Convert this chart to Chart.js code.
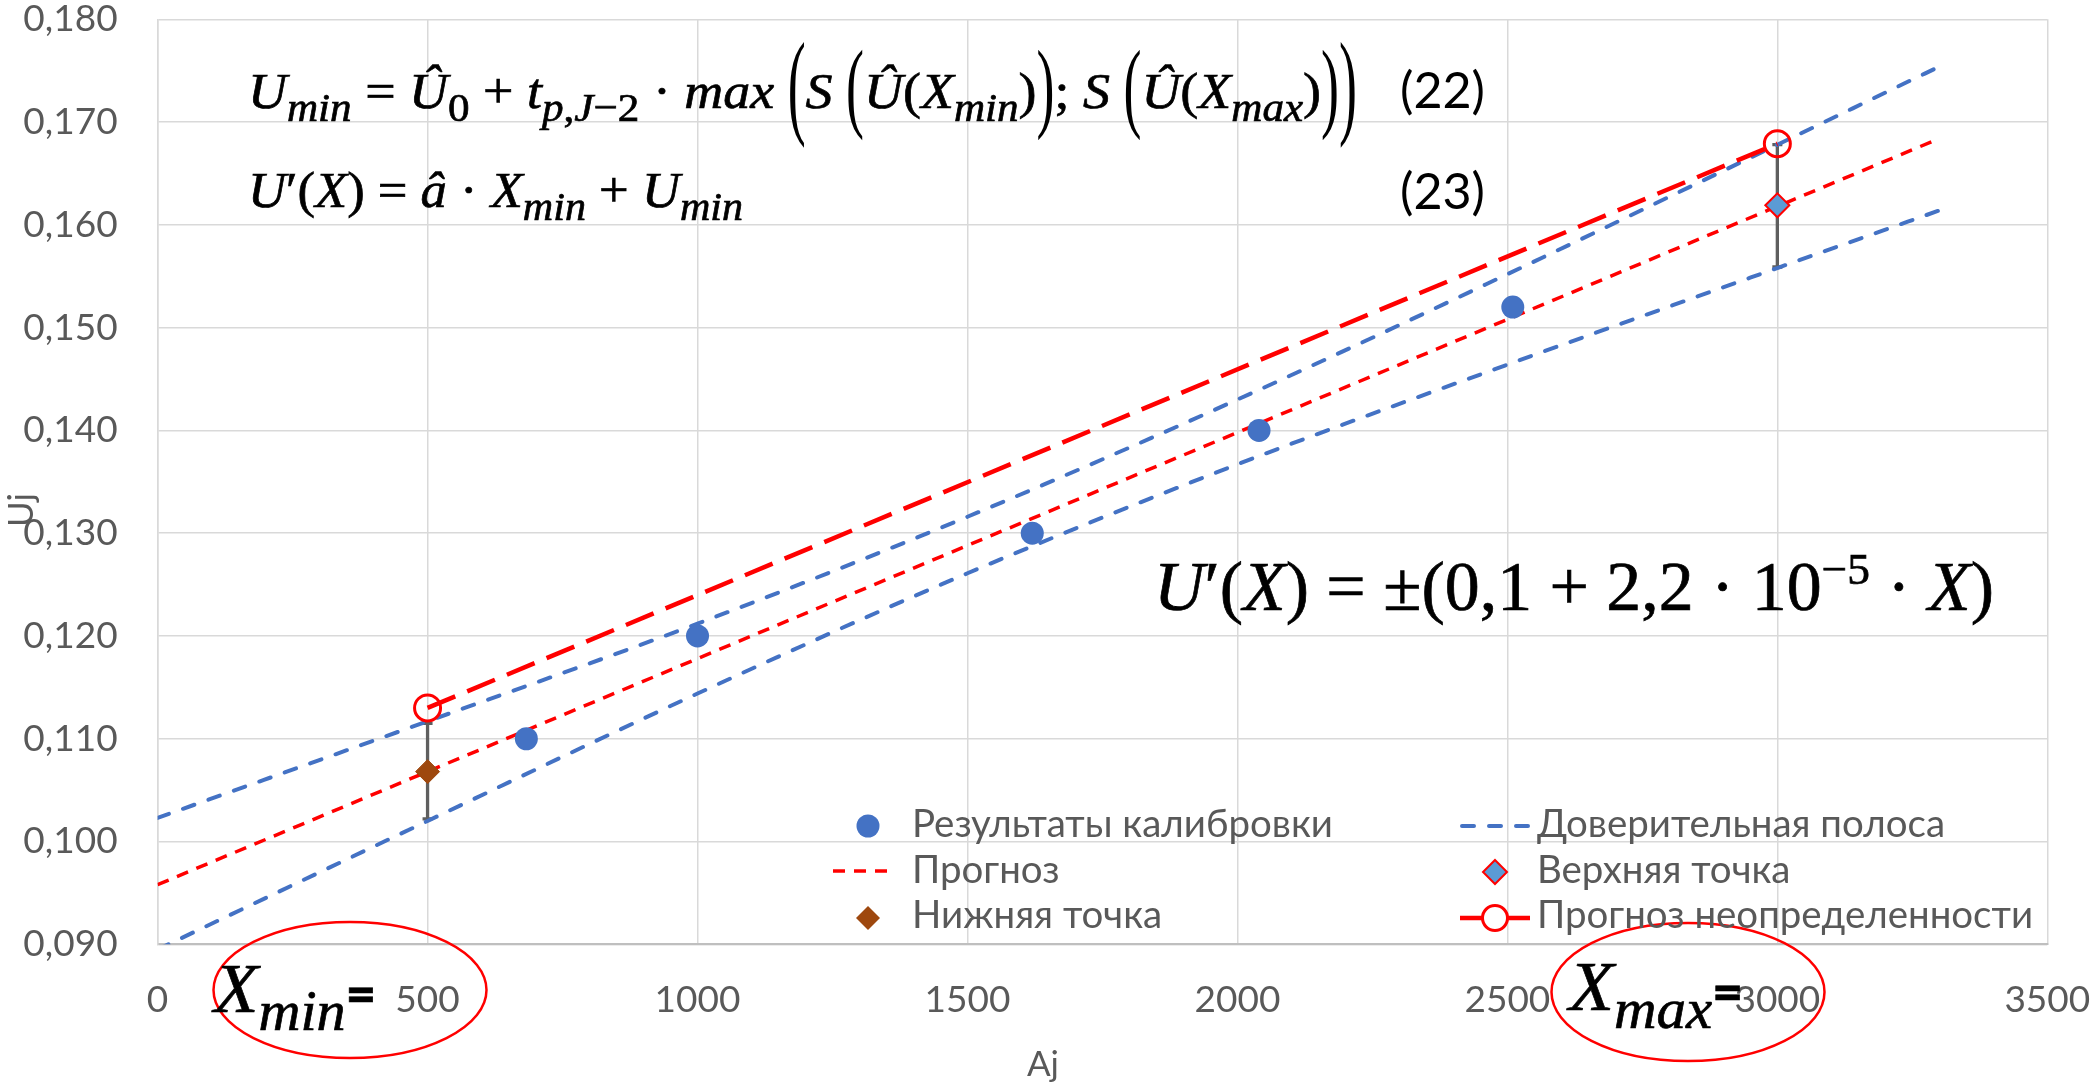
<!DOCTYPE html>
<html><head><meta charset="utf-8">
<script src="https://cdn.jsdelivr.net/npm/chart.js@4.4.1/dist/chart.umd.min.js"></script>
<style>
html,body{margin:0;padding:0;background:#fff;overflow:hidden;}
#wrap{position:relative;width:2094px;height:1087px;}
#c{position:absolute;left:0;top:0;}
.ov{position:absolute;white-space:nowrap;line-height:1;}
.math{font-family:"Liberation Serif","DejaVu Serif",serif;color:#000;-webkit-text-stroke:0.7px #000;}
.math i{font-style:italic;}
.sub{font-size:0.8em;vertical-align:-0.32em;line-height:0;}
.sup{font-size:0.65em;vertical-align:0.58em;line-height:0;}
.bp{display:inline-block;line-height:1;font-style:normal;transform:scaleY(2.3);transform-origin:50% 60%;-webkit-text-stroke:0;}
.mp{display:inline-block;line-height:1;font-style:normal;transform:scaleY(1.95);transform-origin:50% 60%;-webkit-text-stroke:0;}
.eq{font-family:Lato,"Open Sans",sans-serif;font-weight:900;font-style:normal;font-size:0.72em;}
.num{font-family:Lato,"Open Sans",sans-serif;color:#000;}
.leg{font-family:Lato,"Open Sans",sans-serif;color:#595959;}
</style></head>
<body><div id="wrap"><canvas id="c" width="2094" height="1087"></canvas></div>
<script>
// ---------- data ----------
const xTickLabels = ['0','500','1000','1500','2000','2500','3000','3500'];
const yTickLabels = ['0,090','0,100','0,110','0,120','0,130','0,140','0,150','0,160','0,170','0,180'];
const xTitle = 'Aj';
const yTitle = 'Uj';
const calibX = [683, 1000, 1620, 2040, 2510];
const calibY = [0.110, 0.120, 0.130, 0.140, 0.152];
const bandX = [0, 500, 1000, 1500, 2000, 2500, 3000, 3300];
const bandUpper = [0.1023, 0.1117, 0.1212, 0.1316, 0.1430, 0.1552, 0.1678, 0.1754];
const bandLower = [0.0895, 0.1020, 0.1144, 0.1261, 0.1367, 0.1464, 0.1558, 0.1614];
const forecastX = [0, 3300];
const forecastY = [0.0958, 0.1684];
const upperPtX = [3000];
const upperPtY = [0.1619];
const lowerPtX = [500];
const lowerPtY = [0.1068];
const uncX = [500, 3000];
const uncY = [0.1130, 0.1679];
const errX = [500, 3000];
const errLow = [0.1022, 0.1559];
const errHigh = [0.1115, 0.1678];
const labels = ['Результаты калибровки','Доверительная полоса','Прогноз','Верхняя точка','Нижняя точка','Прогноз неопределенности'];

const pts = (xs, ys) => xs.map((x, i) => ({x, y: ys[i]}));

const RED = '#FF0000', BLUE = '#4472C4', LBLUE = '#5B9BD5', BROWN = '#9E480E', GREY = '#595959';

const errorBars = {
  id: 'errorBars',
  beforeDatasetsDraw(chart) {
    const {ctx, scales: {x, y}} = chart;
    ctx.save();
    ctx.strokeStyle = '#5f5f5f';
    ctx.lineWidth = 3.3;
    errX.forEach((v, i) => {
      const px = x.getPixelForValue(v);
      const y1 = y.getPixelForValue(errLow[i]);
      const y2 = y.getPixelForValue(errHigh[i]);
      ctx.beginPath();
      ctx.moveTo(px, y1); ctx.lineTo(px, y2);
      ctx.moveTo(px - 5, y1); ctx.lineTo(px + 5, y1);
      ctx.moveTo(px - 5, y2); ctx.lineTo(px + 5, y2);
      ctx.stroke();
    });
    ctx.restore();
  }
};

const decor = {
  id: 'decor',
  afterDraw(chart) {
    const ctx = chart.ctx;
    ctx.save();
    // axis titles
    ctx.fillStyle = GREY;
    ctx.font = '35px Lato, "Open Sans", sans-serif';
    ctx.textAlign = 'center';
    ctx.textBaseline = 'alphabetic';
    ctx.fillText(xTitle, 1043, 1076);
    ctx.save();
    ctx.translate(33, 510);
    ctx.rotate(-Math.PI / 2);
    ctx.fillText(yTitle, 0, 0);
    ctx.restore();
    // ellipses
    ctx.strokeStyle = RED;
    ctx.lineWidth = 2.5;
    ctx.beginPath(); ctx.ellipse(350, 990, 136.5, 68, 0, 0, Math.PI * 2); ctx.stroke();
    ctx.beginPath(); ctx.ellipse(1688, 992, 136.5, 69, 0, 0, Math.PI * 2); ctx.stroke();
    // legend symbols
    const r1 = 826, r2 = 871, r3 = 918;
    ctx.fillStyle = BLUE;
    ctx.beginPath(); ctx.arc(868, r1, 11.5, 0, Math.PI * 2); ctx.fill();
    ctx.strokeStyle = RED; ctx.lineWidth = 3.5; ctx.setLineDash([12, 9]);
    ctx.beginPath(); ctx.moveTo(833, r2); ctx.lineTo(893, r2); ctx.stroke();
    ctx.setLineDash([]);
    const diamond = (cx, cy, r, fill, stroke, lw) => {
      ctx.beginPath(); ctx.moveTo(cx, cy - r); ctx.lineTo(cx + r, cy); ctx.lineTo(cx, cy + r); ctx.lineTo(cx - r, cy); ctx.closePath();
      ctx.fillStyle = fill; ctx.fill();
      if (stroke) { ctx.strokeStyle = stroke; ctx.lineWidth = lw; ctx.stroke(); }
    };
    diamond(868, r3, 12, BROWN, null, 0);
    ctx.strokeStyle = BLUE; ctx.lineWidth = 4; ctx.lineCap = 'round'; ctx.setLineDash([12, 15]);
    ctx.beginPath(); ctx.moveTo(1462, r1); ctx.lineTo(1530, r1); ctx.stroke();
    ctx.setLineDash([]); ctx.lineCap = 'butt';
    diamond(1495, 872, 12, LBLUE, RED, 2);
    ctx.strokeStyle = RED; ctx.lineWidth = 4.5;
    ctx.beginPath(); ctx.moveTo(1460, r3); ctx.lineTo(1530, r3); ctx.stroke();
    ctx.fillStyle = '#fff'; ctx.lineWidth = 3;
    ctx.beginPath(); ctx.arc(1495, r3, 12.5, 0, Math.PI * 2); ctx.fill(); ctx.stroke();
    ctx.restore();
  }
};

const tickFont = {family: 'Lato, "Open Sans", sans-serif', size: 37};

new Chart(document.getElementById('c'), {
  type: 'scatter',
  data: {
    datasets: [
      {label: labels[0], data: pts(calibX, calibY), backgroundColor: BLUE, borderColor: BLUE, pointRadius: 11.5, pointBorderWidth: 0, showLine: false, order: 0},
      {label: labels[1], data: pts(bandX, bandUpper), borderColor: BLUE, borderWidth: 4, borderDash: [12, 15], borderCapStyle: 'round', pointRadius: 0, showLine: true, cubicInterpolationMode: 'monotone', order: 6},
      {label: labels[1] + ' (нижняя)', data: pts(bandX, bandLower), borderColor: BLUE, borderWidth: 4, borderDash: [12, 15], borderCapStyle: 'round', pointRadius: 0, showLine: true, cubicInterpolationMode: 'monotone', order: 6},
      {label: labels[2], data: pts(forecastX, forecastY), borderColor: RED, borderWidth: 3.5, borderDash: [12, 9], pointRadius: 0, showLine: true, order: 5},
      {label: labels[3], data: pts(upperPtX, upperPtY), pointStyle: 'rectRot', pointRadius: 12, backgroundColor: LBLUE, borderColor: RED, pointBorderWidth: 2, showLine: false, order: 1},
      {label: labels[4], data: pts(lowerPtX, lowerPtY), pointStyle: 'rectRot', pointRadius: 12, backgroundColor: BROWN, borderColor: BROWN, pointBorderWidth: 1, showLine: false, order: 1},
      {label: labels[5], data: pts(uncX, uncY), borderColor: RED, borderWidth: 4.5, borderDash: [30, 13], pointStyle: 'circle', pointRadius: 13, pointBorderWidth: 3, pointBackgroundColor: 'rgba(0,0,0,0)', pointBorderColor: RED, showLine: true, order: 2}
    ]
  },
  options: {
    responsive: false,
    animation: false,
    devicePixelRatio: 1,
    layout: {padding: {left: 0, right: 46.7, top: 19.3, bottom: 0}},
    plugins: {legend: {display: false}, tooltip: {enabled: false}},
    scales: {
      x: {
        type: 'linear', min: 0, max: 3500,
        ticks: {stepSize: 500, padding: 34, color: GREY, font: tickFont, maxRotation: 0, autoSkip: false,
                callback: (v, i) => xTickLabels[i]},
        grid: {color: '#d9d9d9', lineWidth: 1.5, drawTicks: false},
        border: {color: '#bfbfbf', width: 2},
        afterFit: s => { s.height = 142.7; s.paddingLeft = 0; s.paddingRight = 0; }
      },
      y: {
        type: 'linear', min: 0.09, max: 0.18,
        ticks: {stepSize: 0.01, padding: 40, color: GREY, font: tickFont,
                callback: (v, i) => yTickLabels[i]},
        grid: {color: '#d9d9d9', lineWidth: 1.5, drawTicks: false},
        border: {color: '#d9d9d9', width: 1.5},
        afterFit: s => { s.width = 157.6; s.paddingTop = 0; s.paddingBottom = 0; }
      }
    }
  },
  plugins: [errorBars, decor]
});

// ---------- overlay text ----------
const wrap = document.getElementById('wrap');
function mk(cls, html) {
  const d = document.createElement('div');
  d.className = 'ov ' + cls;
  d.innerHTML = html;
  wrap.appendChild(d);
  return d;
}
function place(el, left, baseline, width) {
  el.style.left = left + 'px'; el.style.top = '0px'; el.style.transform = 'none';
  let m = el.querySelector('.bmark');
  if (!m) {
    m = document.createElement('span');
    m.className = 'bmark';
    m.style.cssText = 'display:inline-block;width:0;height:0;vertical-align:baseline;';
    el.appendChild(m);
  }
  const b = m.getBoundingClientRect().top - wrap.getBoundingClientRect().top;
  el.style.top = (baseline - b) + 'px';
  if (width) {
    const w = el.getBoundingClientRect().width;
    el.style.transformOrigin = '0 0';
    el.style.transform = 'scaleX(' + (width / w) + ')';
  }
}

const f1 = mk('math', '<i>U</i><span class="sub"><i>min</i></span> = <i>Û</i><span class="sub">0</span> + <i>t</i><span class="sub"><i>p</i>,<i>J</i>−2</span> · <i>max</i> <span class="bp">(</span><i>S</i> <span class="mp">(</span><i>Û</i>(<i>X</i><span class="sub"><i>min</i></span>)<span class="mp">)</span>; <i>S</i> <span class="mp">(</span><i>Û</i>(<i>X</i><span class="sub"><i>max</i></span>)<span class="mp">)</span><span class="bp">)</span>');
f1.style.fontSize = '51px';
const f2 = mk('math', '<i>U</i>′(<i>X</i>) = <i>â</i> · <i>X</i><span class="sub"><i>min</i></span> + <i>U</i><span class="sub"><i>min</i></span>');
f2.style.fontSize = '51px';
const f3 = mk('math', '<i>U</i>′(<i>X</i>) = ±(0,1 + 2,2 · 10<span class="sup">−5</span> · <i>X</i>)');
f3.style.fontSize = '69px';
const n22 = mk('num', '(22)'); n22.style.fontSize = '50px';
const n23 = mk('num', '(23)'); n23.style.fontSize = '50px';
const xmin = mk('math', '<i>X</i><span class="sub"><i>min</i></span><span class="eq">=</span>');
xmin.style.fontSize = '70px';
const xmax = mk('math', '<i>X</i><span class="sub"><i>max</i></span><span class="eq">=</span>');
xmax.style.fontSize = '70px';

const legTexts = [
  [labels[0], 912, 837], [labels[2], 912, 883], [labels[4], 912, 928],
  [labels[1], 1537, 837], [labels[3], 1537, 883], [labels[5], 1537, 928]
];
const cv = document.createElement('canvas').getContext('2d');
cv.font = '100px Lato';
const legSize = 100 * 421 / cv.measureText(labels[0]).width;
const legEls = legTexts.map(t => { const e = mk('leg', t[0]); e.style.fontSize = legSize.toFixed(2) + 'px'; return e; });

function layoutAll() {
  place(f1, 248, 108, 1109);
  place(f2, 248, 207, 495);
  place(f3, 1154, 610, 840);
  place(n22, 1400, 108, 85);
  place(n23, 1400, 209, 85);
  place(xmin, 214, 1012, 162);
  place(xmax, 1569, 1010, 174);
  legEls.forEach((e, i) => place(e, legTexts[i][1], legTexts[i][2]));
}
layoutAll();
if (document.fonts && document.fonts.ready) document.fonts.ready.then(layoutAll);
</script>
</body></html>
